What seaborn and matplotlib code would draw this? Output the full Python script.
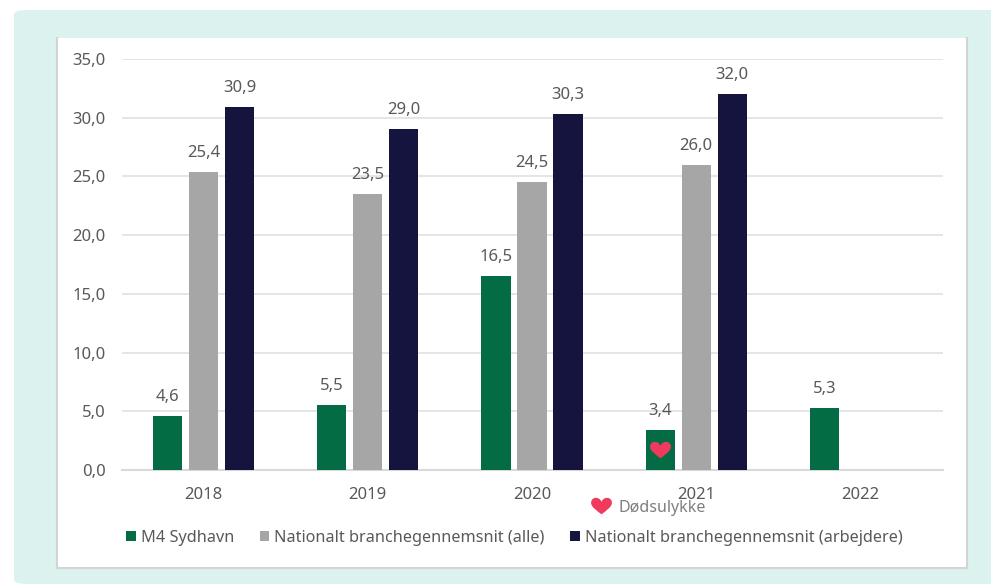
import matplotlib
matplotlib.use('Agg')
import matplotlib.pyplot as plt
from matplotlib.lines import Line2D
from matplotlib.patches import FancyBboxPatch, Rectangle
from matplotlib.path import Path
import numpy as np
import pandas as pd
import seaborn as sns

# Values
years = ['2018', '2019', '2020', '2021', '2022']
m4_sydhavn = [4.6, 5.5, 16.5, 3.4, 5.3]
branche_alle = [25.4, 23.5, 24.5, 26.0, np.nan]
branche_arbejdere = [30.9, 29.0, 30.3, 32.0, np.nan]
series_names = ['M4 Sydhavn', 'Nationalt branchegennemsnit (alle)',
                'Nationalt branchegennemsnit (arbejdere)']
colors = ['#046c45', '#a6a6a6', '#15143e']
y_ticks = [0, 5, 10, 15, 20, 25, 30, 35]

W, H = 991, 585
TEXT = '#595959'
HEART_COLOR = '#ef3a5d'

sns.set_theme(style='white')
plt.rcParams['font.family'] = ['Noto Sans', 'DejaVu Sans']

df = pd.DataFrame({
    'year': years * 3,
    'value': m4_sydhavn + branche_alle + branche_arbejdere,
    'series': [s for s in series_names for _ in years],
})

# Wide heart shape used as a marker
heart = Path([(0, -0.75), (-0.45, -0.4), (-1, -0.05), (-1, 0.35), (-1, 0.95), (-0.2, 1.0), (0, 0.45),
              (0.2, 1.0), (1, 0.95), (1, 0.35), (1, -0.05), (0.45, -0.4), (0, -0.75)],
             [Path.MOVETO] + [Path.CURVE4] * 12)

fig = plt.figure(figsize=(W / 100, H / 100), dpi=100, facecolor='white')

# Teal card and white panel behind the chart, the panel has no top border
fig.patches.append(FancyBboxPatch((14 / W, 1 / H), 1.1, 574 / H, transform=fig.transFigure,
                                  boxstyle='round,pad=0,rounding_size=0.013', mutation_aspect=H / W,
                                  fc='#dcf2ee', ec='none', zorder=-3))
fig.patches.append(Rectangle((57 / W, 1 - 568 / H), 910 / W, 530 / H, transform=fig.transFigure,
                             fc='white', ec='none', zorder=-2))
fig.add_artist(Line2D([57 / W, 57 / W, 967 / W, 967 / W],
                      [1 - 38 / H, 1 - 568 / H, 1 - 568 / H, 1 - 38 / H],
                      color='#d4d4d4', lw=1.5, transform=fig.transFigure, zorder=-1))

ax = fig.add_axes([121.5 / W, 1 - 470 / H, 821 / W, 411 / H])
ax.patch.set_alpha(0)

sns.barplot(data=df, x='year', y='value', hue='series', hue_order=series_names,
            palette=colors, saturation=1, width=0.658, gap=0.19, linewidth=0, ax=ax, zorder=3)

ax.set_yticks(y_ticks)
ax.set_yticklabels([f'{t:.1f}'.replace('.', ',') for t in y_ticks])
ax.set_xlabel('')
ax.set_ylabel('')
ax.yaxis.grid(True, color='#e0e0e0', lw=1.2)
ax.set_axisbelow(True)
sns.despine(ax=ax, left=True, top=True, right=True)
ax.spines['bottom'].set_color('#d9d9d9')
ax.spines['bottom'].set_linewidth(1.5)
ax.tick_params(axis='both', length=0, labelsize=12, labelcolor=TEXT)
ax.tick_params(axis='y', pad=11.5)
ax.tick_params(axis='x', pad=12.5)

# Value labels, the empty 2022 bars get none
for cont in ax.containers:
    labels = ['' if np.isnan(v) else f'{v:.1f}'.replace('.', ',') for v in cont.datavalues]
    ax.bar_label(cont, labels=labels, padding=8, fontsize=12, color=TEXT)

# Heart on the 2021 bar and its legend note
bar = ax.containers[0][3]
ax.plot(bar.get_x() + bar.get_width() / 2, bar.get_height() / 2, marker=heart, ms=15, mfc=HEART_COLOR,
        mec='none', zorder=5)
fig.add_artist(Line2D([601 / W], [1 - 506 / H], marker=heart, ms=15, mfc=HEART_COLOR, mec='none',
                      transform=fig.transFigure))
fig.text(618 / W, 1 - 508 / H, 'Dødsulykke', ha='left', va='center', fontsize=11.5, color='#7f7f7f')

ax.set_xlim(-0.5, 4.5)
ax.set_ylim(0, 35)

leg = ax.legend(loc='center left', bbox_to_anchor=(126 / W, 1 - 537.5 / H), bbox_transform=fig.transFigure,
                ncol=3, frameon=False, borderpad=0, borderaxespad=0, handlelength=0.6, handleheight=0.6,
                handletextpad=0.3, columnspacing=1.58, fontsize=11.7, labelcolor=TEXT, title=None)

fig.savefig('out.png', dpi=100, facecolor=fig.get_facecolor())
